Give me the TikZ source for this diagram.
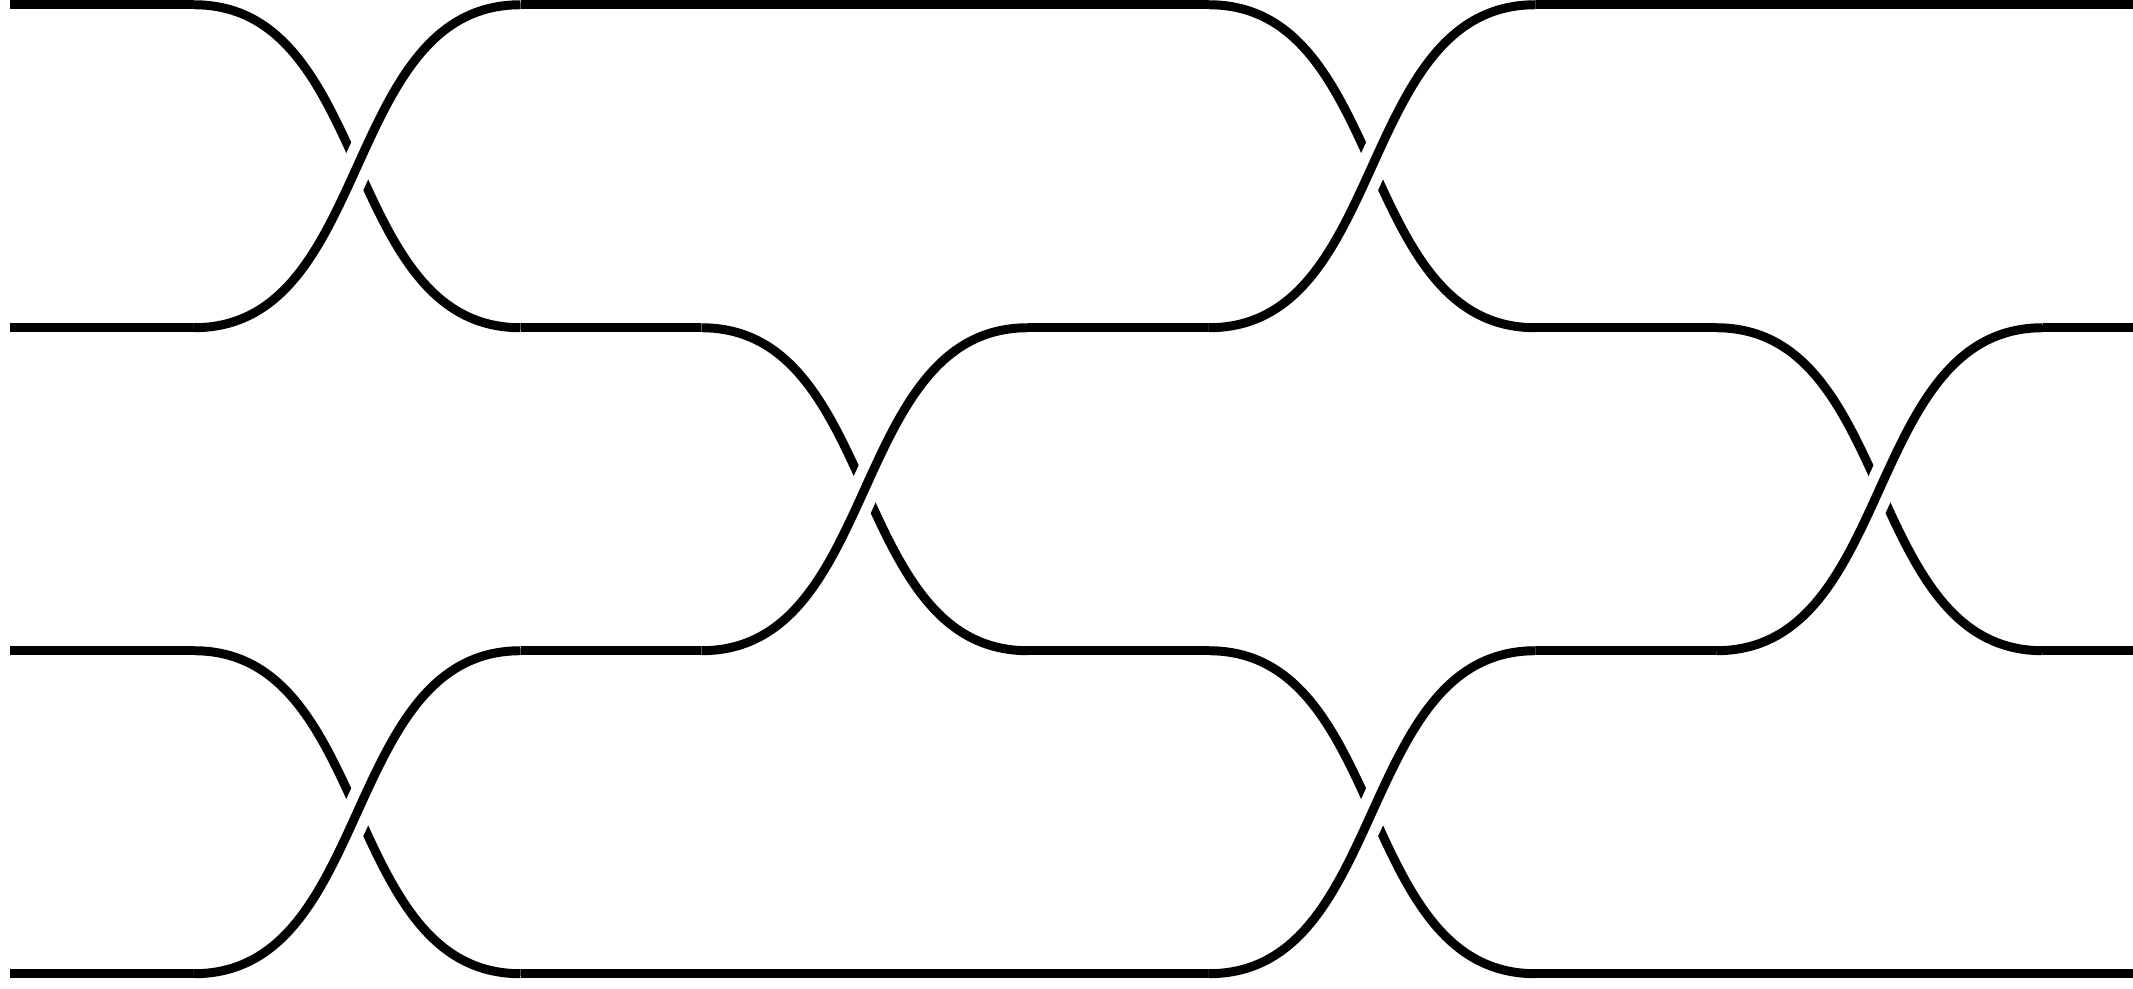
\documentclass[tikz,border=0pt]{standalone}
\begin{document}
\begin{tikzpicture}[
    strand/.style={line width=0.79pt, black},
    overstrand/.style={strand, preaction={draw, white, line width=2.7pt}}]
    % 1. Khung hình
    \useasboundingbox (0,-0.047) rectangle (6.604,3.0149);
    \clip (0,-0.047) rectangle (6.604,3.0149);

    % 2. Các đoạn thẳng nằm ngang
    \foreach \y in {3,0} {
        \draw[strand] (0.031,\y) -- (0.6006,\y)
            (1.6116,\y) -- (3.7426,\y)
            (4.7536,\y) -- (6.8,\y);
    }
    \foreach \y in {2,1} {
        \draw[strand] (0.031,\y) -- (0.6006,\y)
            (1.6116,\y) -- (2.1716,\y)
            (3.1826,\y) -- (3.7426,\y)
            (4.7536,\y) -- (5.3146,\y)
            (6.3256,\y) -- (6.8,\y);
    }

    % 3. Các điểm bắt chéo
    \foreach \k/\a in {0/3, 0/1, 1/2, 2/3, 2/1, 3/2} {
        \pgfmathsetmacro\xa{0.6006+1.571*\k}
        \pgfmathsetmacro\xb{\xa+1.011}
        \draw[strand] (\xa,\a) to[out=0, in=180] (\xb,\a-1);
        \draw[overstrand] (\xa,\a-1) to[out=0, in=180] (\xb,\a);
    }
\end{tikzpicture}
\end{document}
